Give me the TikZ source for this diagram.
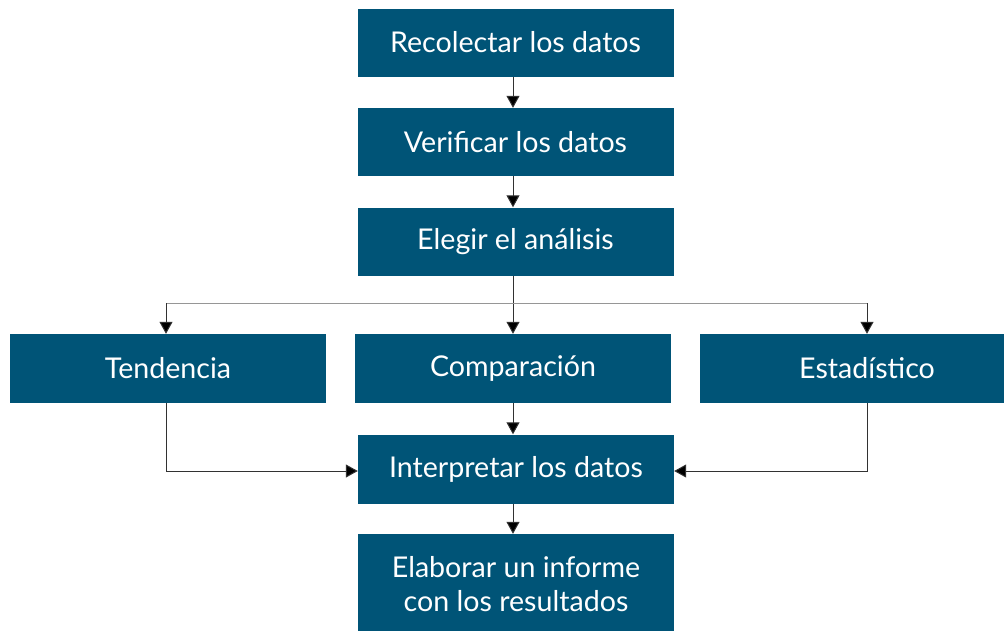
\documentclass[tikz,border=0pt]{standalone}
\usepackage{fontspec}
\setmainfont{Lato}
\usetikzlibrary{arrows.meta}
\definecolor{boxblue}{RGB}{0,84,119}
\definecolor{darkline}{RGB}{50,50,50}
\definecolor{lightline}{RGB}{150,150,150}
\begin{document}
\begin{tikzpicture}[x=1pt,y=-1pt,
  stepbox/.style={fill=boxblue,draw=none,text=white,inner sep=0pt,
    minimum width=316pt,minimum height=68pt,font=\fontsize{28.6}{34}\selectfont,align=center},
  arr/.style={draw=darkline,line width=1pt,-{Triangle[width=13pt,length=12pt,fill=black]}},
  ln/.style={draw=darkline,line width=1pt}]
\useasboundingbox (0,0) rectangle (1004,630);
\node[stepbox] (a) at (515.5,42.5) {Recolectar los datos};
\node[stepbox] (b) at (515.5,142) {Verificar los datos};
\node[stepbox] (c) at (515.5,241.5) {Elegir el análisis};
\node[stepbox,minimum height=69pt] (t) at (168,368.5) {Tendencia};
\node[stepbox,minimum height=69pt] (m) at (513,368.5) {Comparación};
\node[stepbox,minimum height=69pt,minimum width=334pt] (s) at (867,368.5) {Estadístico};
\node[stepbox,minimum height=69pt] (i) at (516,469) {Interpretar los datos};
\node[stepbox,minimum height=100pt] (e) at (516,584) {Elaborar un informe\\con los resultados};
\coordinate (hl) at (166,303);
\coordinate (hr) at (867,303);
\draw[arr] (a.south -| 513,0) -- (b.north -| 513,0);
\draw[arr] (b.south -| 513,0) -- (c.north -| 513,0);
\draw[arr] (c.south -| 513,0) -- (m.north -| 513,0);
\draw[draw=lightline,line width=1pt] (hl) -- (hr);
\draw[arr] (hl) -- (t.north -| hl);
\draw[arr] (hr) -- (s.north -| hr);
\draw[arr] (m.south -| 513,0) -- (i.north -| 513,0);
\draw[arr] (t.south -| 166,0) |- (i.west |- 0,471);
\draw[arr] (s.south -| 867,0) |- (i.east |- 0,471);
\draw[arr] (i.south -| 513,0) -- (e.north -| 513,0);
\end{tikzpicture}
\end{document}
